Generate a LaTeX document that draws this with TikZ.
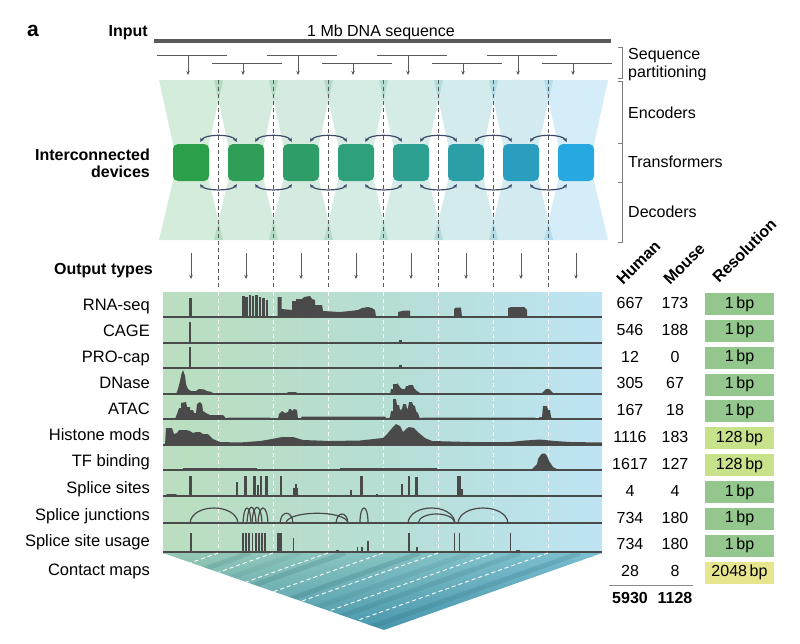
\documentclass[tikz,border=0pt]{standalone}
\usepackage{fontspec}
\setmainfont{Liberation Sans}
\usetikzlibrary{arrows.meta,calc,shadings}
\definecolor{dv1}{RGB}{44,160,72}
\definecolor{dv2}{RGB}{46,158,88}
\definecolor{dv3}{RGB}{47,157,104}
\definecolor{dv4}{RGB}{47,160,124}
\definecolor{dv5}{RGB}{45,160,145}
\definecolor{dv6}{RGB}{43,159,168}
\definecolor{dv7}{RGB}{42,158,190}
\definecolor{dv8}{RGB}{40,168,225}
\definecolor{trkc}{RGB}{74,74,74}
\definecolor{arrc}{RGB}{62,74,104}
\definecolor{lnc}{RGB}{90,90,90}
\definecolor{bgL}{RGB}{186,222,190}
\definecolor{bgM}{RGB}{182,222,212}
\definecolor{bgR}{RGB}{190,228,244}
\definecolor{cmUL}{RGB}{150,200,178}
\definecolor{cmUR}{RGB}{120,190,210}
\definecolor{cmLL}{RGB}{80,160,170}
\definecolor{cmLR}{RGB}{60,140,178}
\definecolor{cmDk}{RGB}{30,90,100}
\definecolor{resA}{RGB}{147,199,141}
\definecolor{resB}{RGB}{200,226,140}
\definecolor{resC}{RGB}{231,230,142}
\begin{document}
\begin{tikzpicture}[x=1pt,y=-1pt,
  lbl/.style={font=\fontsize{16}{18}\selectfont, inner sep=0pt},
  tlbl/.style={font=\fontsize{16.5}{18}\selectfont, inner sep=0pt},
  blbl/.style={font=\fontsize{16}{18}\selectfont\bfseries, inner sep=0pt},
  panel/.style={font=\fontsize{21}{24}\selectfont\bfseries, inner sep=0pt},
  trk/.style={fill=trkc, draw=none},
  trkbase/.style={draw=trkc, line width=1.3pt},
  junc/.style={draw=trkc, line width=1.2pt},
  gdash/.style={draw=lnc, line width=0.8pt, dash pattern=on 4pt off 3pt},
  wdash/.style={draw=white, line width=0.9pt, dash pattern=on 4pt off 3pt},
  part/.style={draw=lnc, line width=1pt},
  darr/.style={draw=lnc, line width=1pt, -{Stealth[length=4pt,width=3.5pt]}},
  dev/.style={rounded corners=5pt, minimum width=36pt, minimum height=37pt, inner sep=0pt},
  xarr/.style={draw=arrc, line width=1.2pt, {Stealth[length=4pt,width=4pt]}-{Stealth[length=4pt,width=4pt]}},
  resbox/.style={minimum width=69pt, minimum height=22pt, inner sep=0pt, font=\fontsize{16}{18}\selectfont},
  brk/.style={draw=lnc!80, line width=0.8pt},
]
\useasboundingbox (0,0) rectangle (800,643);
\fill[white] (0,0) rectangle (800,643);

% ---------- top ----------
\node[panel, anchor=base west] (pa) at (27,36) {a};
\node[blbl, anchor=base east] (input) at (148,36) {Input};
\coordinate (seqL) at (154,41);
\coordinate (seqR) at (611,41);
\draw[lnc, line width=3.5pt] (seqL) -- (seqR);
\node[lbl, anchor=base] (seq) at (381,36) {1 Mb DNA sequence};

\foreach \j in {0,...,7} {
  \pgfmathsetmacro\ax{188+55*\j}
  \pgfmathsetmacro\py{ifthenelse(mod(\j,2)==0,55,63)}
  \coordinate (pa\j) at (\ax-31,\py);
  \coordinate (pb\j) at (\ax+39,\py);
  \coordinate (ps\j) at (\ax,\py);
  \coordinate (pe\j) at (\ax,75);
  \draw[part] (pa\j) -- (pb\j);
  \draw[darr] (ps\j) -- (pe\j);
}

% ---------- devices ----------
\foreach \k in {1,...,8} {
  \pgfmathsetmacro\cx{191+55*(\k-1)}
  \fill[dv\k, fill opacity=0.2] (\cx-32,80) -- (\cx+32,80) -- (\cx+18,144) -- (\cx+18,181)
     -- (\cx+32,240) -- (\cx-32,240) -- (\cx-18,181) -- (\cx-18,144) -- cycle;
}
\foreach \k in {0,...,6} {
  \pgfmathsetmacro\dx{218+55*\k}
  \draw[gdash] (\dx,80) -- (\dx,290);
}
\foreach \k in {1,...,8} {
  \node[dev, fill=dv\k] (d\k) at ({191+55*(\k-1)},162.5) {};
}
\foreach \k in {1,...,7} {
  \pgfmathtruncatemacro\n{\k+1}
  \draw[xarr] ($(d\k.north east)+(-9,-2)$) .. controls +(5,-8) and +(-5,-8) .. ($(d\n.north west)+(9,-2)$);
  \draw[xarr] ($(d\k.south east)+(-9,3)$) .. controls +(5,7) and +(-5,7) .. ($(d\n.south west)+(9,3)$);
}
\node[blbl, anchor=base east] (ic1) at (150,160.7) {Interconnected};
\node[blbl, anchor=base east] (ic2) at (150,177.7) {devices};

% ---------- output arrows ----------
\node[blbl, anchor=base east] (ot) at (153,274) {Output types};
\foreach \k in {0,...,7} {
  \pgfmathsetmacro\cx{191+55*\k}
  \coordinate (oa\k) at (\cx,253);
  \coordinate (ob\k) at (\cx,279);
  \draw[darr] (oa\k) -- (ob\k);
}

% ---------- tracks ----------
\shade[left color=bgL, right color=bgR, middle color=bgM] (163,292) rectangle (602,553);
\foreach \k in {0,...,6} {
  \pgfmathsetmacro\dx{218+55*\k}
  \draw[wdash] (\dx,292) -- (\dx,553);
}
\foreach \y in {317,343,368,394,419,445,470,496,523,552} \draw[trkbase] (163,\y) -- (602,\y);

% RNA-seq
\fill[trk] (188.5,317) rectangle (192,298);
\foreach \a/\b/\t in {242/244.5/296,245.3/247.8/297,248.6/251/295,251.8/254.3/296,255.1/257.7/295,258.5/261.2/297,262/264.7/298,265.5/268/300}
  \fill[trk] (\a,317) rectangle (\b,\t);
\fill[trk] (277.5,317) -- (277.5,297) -- (281.5,297) -- (281.5,309) -- (292,310) -- (292,301) -- (296,301) -- (296,299) -- (302,299) -- (304,297) -- (310,296) -- (312,299) -- (315,300) -- (315,305) -- (322,305) -- (323,311) -- (340,312) -- (350,311) -- (358,310) -- (362,308) -- (368,307) -- (372,308) -- (375,310) -- (376,317) -- cycle;
\fill[trk] (398,317) -- (398,312) -- (404,310.5) -- (410,310.5) -- (410,317) -- cycle;
\fill[trk] (454,317) -- (454,309) -- (456,307.5) -- (461,307.5) -- (462,317) -- cycle;
\fill[trk] (508,317) -- (508,308) -- (511,307) -- (524,307) -- (527,310) -- (527,317) -- cycle;
% CAGE / PRO-cap
\fill[trk] (188.5,343) rectangle (191,322);
\fill[trk] (398.5,343) rectangle (401.5,340);
\fill[trk] (188.5,368) rectangle (191,347);
\fill[trk] (398.5,368) rectangle (401.5,365);
% DNase
\fill[trk] (176,394) -- (178,389) -- (180,381) -- (181.5,374) -- (183,370) -- (185,376) -- (186,384) -- (188,389) -- (191,391) -- (196,391) -- (199,389) -- (204,389.5) -- (207,391) -- (212,392) -- (213,394) -- cycle;
\fill[trk] (286,394) -- (288,392) -- (296,392) -- (298,394) -- cycle;
\fill[trk] (330,394) -- (332,393) -- (370,393) -- (372,394) -- cycle;
\fill[trk] (390,394) -- (391,389) -- (393,389) -- (393,384) -- (397,384) -- (397,383) -- (400,387) -- (402,389) -- (405,389) -- (406,386) -- (408,386) -- (409,385) -- (413,385) -- (414,388) -- (417,391) -- (420,393) -- (420,394) -- cycle;
\fill[trk] (541,394) -- (544,391) -- (546,389) -- (549,389) -- (551,391) -- (554,394) -- cycle;
% ATAC
\fill[trk] (175,419) -- (177,414) -- (179,408) -- (181,408) -- (181,403) -- (186,402) -- (187,407) -- (190,407) -- (190,410) -- (193,410) -- (194,413) -- (196,413) -- (197,404) -- (200,402) -- (202,404) -- (203,411) -- (206,413) -- (210,415) -- (223,415) -- (225,417) -- (226,419) -- cycle;
\fill[trk] (226,419) -- (228,417.5) -- (270,417.5) -- (272,419) -- cycle;
\fill[trk] (278,419) -- (279,414) -- (282,411) -- (285,413) -- (288,412) -- (289,409) -- (291,409) -- (292,411) -- (294,409) -- (297,410) -- (298,419) -- cycle;
\fill[trk] (300,419) -- (302,416.5) -- (385,416.5) -- (387,419) -- cycle;
\fill[trk] (388,419) -- (390,417) -- (391,411) -- (393,411) -- (393,399) -- (396,399) -- (397,405) -- (399,405) -- (400,410) -- (402,409) -- (403,404) -- (406,404) -- (407,409) -- (408,408) -- (409,402) -- (412,402) -- (413,405) -- (415,406) -- (416,411) -- (418,413) -- (420,419) -- cycle;
\fill[trk] (420,419) -- (422,417.5) -- (535,417.5) -- (537,419) -- cycle;
\fill[trk] (537,419) -- (540,417) -- (542,417) -- (543,406) -- (547,406) -- (548,410) -- (550,410) -- (551,417) -- (553,419) -- cycle;
% Histone mods
\fill[trk] (165,445) -- (166,428) -- (172,428) -- (174,434) -- (177,433) -- (179,430) -- (186,430) -- (190,431) -- (193,433) -- (196,432) -- (200,432) -- (203,434) -- (208,434) -- (213,439) -- (220,442) -- (240,442.5) -- (260,441) -- (272,439) -- (282,437) -- (293,437) -- (303,440) -- (330,441) -- (360,440.5) -- (383,438) -- (388,433) -- (393,427) -- (396,424) -- (400,426) -- (403,432) -- (406,429) -- (409,427) -- (414,428) -- (419,433) -- (425,438) -- (432,441) -- (470,442) -- (510,442) -- (525,440.5) -- (540,439.5) -- (555,441) -- (570,442) -- (602,442.5) -- (602,445) -- cycle;
% TF binding
\fill[trk] (183,470) rectangle (257,468.3);
\fill[trk] (340,470) rectangle (437,468.3);
\fill[trk] (531,470) -- (534,467) -- (537,464) -- (538,459) -- (540,456) -- (542,453.5) -- (545,453.5) -- (547,456) -- (549,461) -- (551,464) -- (553,467) -- (557,469) -- (559,470) -- cycle;
% Splice sites
\fill[trk] (165,496) -- (167,494) -- (176,494) -- (178,496) -- cycle;
\foreach \a/\b/\t in {189/192/476,236/238/482,244/246.5/476,253/255.5/476,256.5/259/485,259.5/262/476,265/268/476,279.5/281.5/476,293/298/488,294.5/296.5/484,350/352/490,360/363/476,376/378/494,401/403/484,408/410/476,415/418/477,457/460.5/476,460.5/463/489}
  \fill[trk] (\a,496) rectangle (\b,\t);
% Splice junctions
\draw[junc] (190,523) .. controls (192,503) and (236,503) .. (238,523);
\draw[junc] (243,523) .. controls (244,503) and (250,503) .. (251,523);
\draw[junc] (247,523) .. controls (248,502) and (255,502) .. (256,523);
\draw[junc] (252,523) .. controls (253,502) and (261,502) .. (262,523);
\draw[junc] (258,523) .. controls (259,503) and (267,503) .. (268,523);
\draw[junc] (280,523) .. controls (281,510) and (292,510) .. (293,523);
\draw[junc] (286,523) .. controls (288,510) and (346,510) .. (348,523);
\draw[junc] (336,523) .. controls (337,511) and (347,511) .. (348,523);
\draw[junc] (360,523) .. controls (360,503) and (368,503) .. (368,523);
\draw[junc] (408,523) .. controls (410,503) and (453,503) .. (455,523);
\draw[junc] (418,523) .. controls (420,511) and (453,511) .. (455,523);
\draw[junc] (458,523) .. controls (460,503) and (506,503) .. (508,523);
% Splice site usage
\foreach \a/\b/\t in {189.5/191.5/533,242/243.8/533,245.2/247/533,248.4/250.2/533,251.6/253.4/533,254.8/256.6/533,258/259.8/533,261.2/263/533,264.4/266.2/533,277/282/533,292.5/294/538,336/339/550,356.5/358/547,361/363/547,367/369/541,408/410/533,416/418/547,453.5/455/533,458.5/460/533,509.5/511/533,516/520/550}
  \fill[trk] (\a,552) rectangle (\b,\t);

% ---------- contact map ----------
\begin{scope}
  \clip (163,553) -- (602,553) -- (384,630) -- cycle;
  \shade[upper left=cmUL, upper right=cmUR, lower left=cmLL, lower right=cmLR] (163,553) rectangle (602,631);
  \foreach \x/\o in {250/0.14,300/0.08,345/0.16,420/0.18,470/0.1,520/0.14,580/0.16}
    \draw[cmDk, line width=5pt, opacity=\o] (\x,553) -- ++(-436,154);
\end{scope}
\foreach \k in {0,...,6} {
  \pgfmathsetmacro\dx{218+55*\k}
  \pgfmathsetmacro\tt{(\dx-163)/439}
  \coordinate (cmA\k) at (\dx,553);
  \coordinate (cmB\k) at ({163+221*\tt},{553+77*\tt});
  \draw[wdash] (cmA\k) -- (cmB\k);
}

% ---------- right side ----------
\draw[brk] (618,47) -- (622,47) -- (622,78) -- (618,78);
\draw[brk] (618,81) -- (622,81) -- (622,242) -- (618,242);
\draw[brk] (618,143) -- (622,143);
\draw[brk] (618,182) -- (622,182);
\node[lbl, anchor=base west] (sp1) at (628,59) {Sequence};
\node[lbl, anchor=base west] (sp2) at (628,77.5) {partitioning};
\node[lbl, anchor=base west] (enc) at (628,118) {Encoders};
\node[lbl, anchor=base west] (trf) at (628,167) {Transformers};
\node[lbl, anchor=base west] (dec) at (628,217) {Decoders};

\node[blbl, anchor=base west, rotate=45] (hh) at (623,286) {Human};
\node[blbl, anchor=base west, rotate=45] (hm) at (670,286) {Mouse};
\node[blbl, anchor=base west, rotate=45] (hr) at (719,284) {Resolution};

\foreach \i/\lb/\name/\h/\m/\res/\rc in {0/310.7/RNA-seq/667/173/1\,bp/resA,1/336.2/CAGE/546/188/1\,bp/resA,2/362/PRO-cap/12/0/1\,bp/resA,3/388.4/DNase/305/67/1\,bp/resA,4/414.4/ATAC/167/18/1\,bp/resA,5/440.5/Histone mods/1116/183/128\,bp/resB,6/466.7/TF binding/1617/127/128\,bp/resB,7/493.3/Splice sites/4/4/1\,bp/resA,8/520/Splice junctions/734/180/1\,bp/resA,9/546.7/Splice site usage/734/180/1\,bp/resA,10/575/Contact maps/28/8/2048\,bp/resC} {
  \pgfmathsetmacro\cy{304+26.85*\i}
  \node[tlbl, anchor=base east] (lab\i) at (150,\lb) {\name};
  \node[lbl, anchor=base] (hu\i) at (630,\cy+4.3) {\h};
  \node[lbl, anchor=base] (mo\i) at (675,\cy+4.3) {\m};
  \node[resbox, fill=\rc] (res\i) at (739.5,\cy) {\res};
}
\coordinate (totL) at (609,585);
\coordinate (totR) at (693,585);
\draw[lnc!70, line width=0.8pt] (totL) -- (totR);
\node[blbl, anchor=base] (thu) at (630,603.3) {5930};
\node[blbl, anchor=base] (tmo) at (675,603.3) {1128};
\end{tikzpicture}
\end{document}
